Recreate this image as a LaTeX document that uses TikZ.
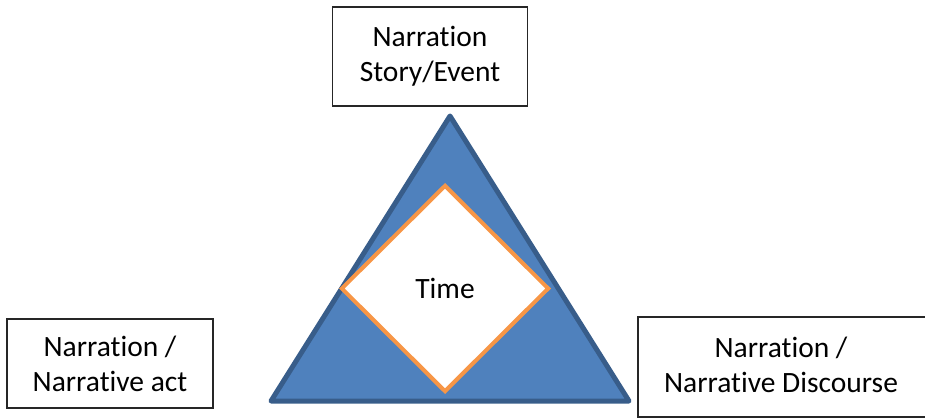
\documentclass[tikz,border=0pt]{standalone}
\usepackage{fontspec}
\setmainfont{Carlito}[Ligatures=NoCommon]
\usetikzlibrary{shapes.geometric}
\definecolor{triFill}{HTML}{4F81BD}
\definecolor{triLine}{HTML}{385D8A}
\definecolor{timeLine}{HTML}{F79646}
\begin{document}
\begin{tikzpicture}[x=1pt,y=-1pt,
  label font/.style={font=\fontsize{29.5}{35}\selectfont},
  label box/.style={draw=black!85, line width=1.2pt, fill=white, inner sep=0pt,
    align=center, label font},
  time box/.style={diamond, draw=timeLine, line width=4pt, fill=white, inner sep=0pt,
    minimum width=208pt, minimum height=207pt, label font}]
\useasboundingbox (0,0) rectangle (925,419);
\clip (0,0) rectangle (925,419);
% triangle of the three narration aspects
\coordinate (apex) at (450,116);
\coordinate (bl) at (271,401);
\coordinate (br) at (629,401);
\draw[triLine, fill=triFill, line width=5pt, line join=round] (apex) -- (br) -- (bl) -- cycle;
% time at the centre
\node[time box] (time) at (445,288.5) {Time};
% labels
\node[label box, minimum width=195pt, minimum height=99pt] (story) at (430,56.5) {Narration\\Story/Event};
\node[label box, minimum width=206pt, minimum height=89pt] (act) at (110,363.5) {Narration /\\Narrative act};
\node[label box, minimum width=340pt, minimum height=100pt] (disc) at (808,367) {};
\node[label font, align=center, inner sep=0pt] (disctext) at (781,364.5) {Narration /\\Narrative Discourse};
\end{tikzpicture}
\end{document}
